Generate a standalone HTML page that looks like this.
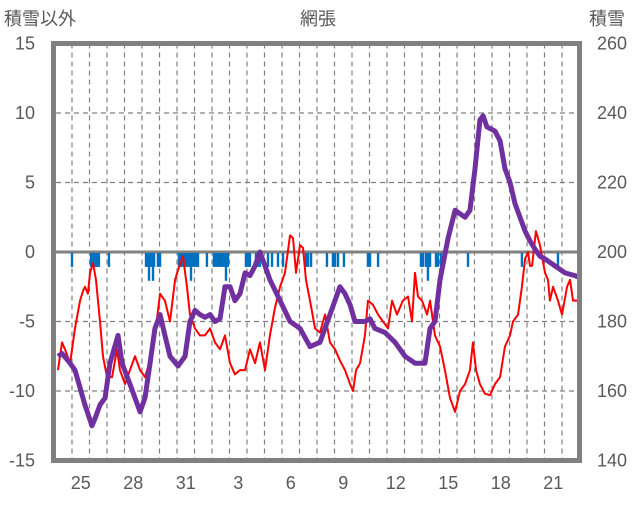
<!DOCTYPE html>
<html><head><meta charset="utf-8"><style>
body{margin:0;background:#fff;}
svg text{font-family:"Liberation Sans","Noto Sans CJK JP",sans-serif;fill:#595959;}
</style></head><body>
<svg id="chart" width="636" height="501" viewBox="0 0 636 501" xmlns="http://www.w3.org/2000/svg">
<text x="318" y="25" font-size="18" text-anchor="middle">網張</text>
<text x="4" y="25" font-size="18">積雪以外</text>
<text x="589" y="25" font-size="18">積雪</text>
<g id="grid"></g>
<g id="bars"></g>
<g id="lines"></g>
<rect x="53.5" y="43.5" width="526" height="417" fill="none" stroke="#808080" stroke-width="5"/>
<g id="ticks"></g>
</svg>
<script>
const leftTicks=[15,10,5,0,-5,-10,-15];
const rightTicks=[260,240,220,200,180,160,140];
const xLabels=["25","28","31","3","6","9","12","15","18","21"];
const barDays=[0.80,1.89,2.00,2.11,2.23,2.34,2.91,5.03,5.14,5.20,5.26,5.37,5.43,5.49,5.71,5.83,6.91,7.03,7.14,7.26,7.37,7.49,7.60,7.71,7.83,7.94,8.00,8.51,8.91,9.03,9.14,9.26,9.37,9.49,9.60,9.71,10.74,10.86,10.97,11.31,11.43,11.54,12.00,12.23,12.57,12.86,14.17,14.29,14.46,15.37,15.71,15.83,16.00,16.34,17.71,17.83,18.29,20.74,20.86,21.03,21.14,21.26,21.6,21.71,21.89,23.43,26.51,28.57];
const barValues=[-1,-1,-1,-1,-1,-1,-1,-1,-1,-2,-1,-1,-2,-1,-1,-1,-1,-1,-1,-1,-1,-1,-2,-1,-1,-1,-1,-1,-1,-1,-1,-1,-1,-1,-2,-1,-1,-1,-1,-1,-1,-1,-1,-1,-1,-1,-1,-1,-1,-1,-1,-1,-1,-1,-1,-1,-1,-1,-1,-1,-2,-1,-1,-1,-1,-1,-1,-1];
const redDays=[0,.23,.4,.69,.97,1.26,1.43,1.54,1.71,1.83,2.0,2.17,2.4,2.57,2.8,3.09,3.37,3.54,3.83,4.11,4.4,4.69,4.97,5.26,5.54,5.83,6.11,6.4,6.69,6.86,7.14,7.37,7.54,7.83,8.11,8.4,8.69,8.97,9.26,9.54,9.83,10.11,10.4,10.69,10.97,11.26,11.54,11.83,12.11,12.4,12.69,12.97,13.26,13.43,13.6,13.83,14.0,14.17,14.4,14.69,14.97,15.26,15.54,15.83,16.11,16.4,16.69,16.86,17.03,17.26,17.54,17.71,18.0,18.29,18.57,18.86,19.09,19.37,19.71,20.0,20.23,20.4,20.57,20.8,21.09,21.26,21.54,21.83,22.11,22.4,22.69,22.97,23.26,23.54,23.71,23.89,24.11,24.4,24.69,24.97,25.26,25.54,25.83,26.0,26.29,26.51,26.69,26.86,26.97,27.09,27.31,27.54,27.83,28.0,28.11,28.29,28.57,28.8,29.09,29.26,29.43,29.71];
const redValues=[-8.5,-6.5,-7,-8,-5.5,-3.5,-2.8,-2.5,-3,-1.5,-0.8,-2,-5,-7.5,-9,-9,-7,-8.5,-9.5,-8.5,-7.5,-8.5,-9,-7.8,-6,-3,-3.5,-5,-2,-1.3,-0.3,-2.5,-4.5,-5.5,-6,-6,-5.5,-6.5,-7,-6,-8,-8.8,-8.5,-8.5,-7,-8,-6.5,-8.5,-6,-4,-2.5,-1.5,1.2,1,-1.5,0.5,0.3,-2,-3.5,-5.5,-5.8,-4.5,-6.5,-7,-7.8,-8.5,-9.5,-10,-8.5,-8,-6,-3.5,-3.8,-4.5,-5,-5.5,-3.5,-4.5,-3.5,-3.2,-5,-1.5,-3.2,-3.5,-4.5,-3.5,-6,-6.8,-8.5,-10.5,-11.5,-10,-9.5,-8.5,-6.5,-8.5,-9.5,-10.2,-10.3,-9.5,-9,-6.8,-6,-5,-4.5,-2.5,-0.5,0,-1,-1,1.5,0.5,-1.5,-2,-3.5,-2.5,-3.5,-4.5,-2.5,-2,-3.5,-3.5];
const snowDays=[0,.23,.69,.97,1.54,1.94,2.11,2.4,2.69,2.97,3.43,3.66,4.11,4.69,4.97,5.26,5.54,5.83,6.11,6.4,6.86,7.26,7.54,7.83,8.11,8.4,8.69,8.97,9.26,9.54,9.83,10.11,10.4,10.69,10.97,11.26,11.54,11.83,12.11,12.69,13.26,13.83,14.4,14.97,15.54,16.11,16.4,16.69,16.97,17.54,17.83,18.11,18.69,19.26,19.83,20.4,20.97,21.26,21.54,21.83,22.29,22.69,23.26,23.54,23.83,24.11,24.29,24.51,24.97,25.26,25.54,25.83,26.11,26.4,26.69,26.97,27.26,27.54,27.83,28.4,28.97,29.54,29.71];
const snowValues=[170,170.8,168,166,156,150,152,156,158,168,176,168,162,154,158,168,178,182,176,170,167.2,170,180,183.2,182,181.2,182,180,180.8,190,190,186,188,194,193.2,196,200,196,192,186,180,178,172.8,174,182,190,188,184.8,180,180,180.8,178,176.8,174,170,168,168,178,180,192,204,212,210,212,224,238,239.2,236,234.8,232,224,220,214,210,206,203.2,200.8,198.8,198,196,194,193.2,192.8];
const NS="http://www.w3.org/2000/svg";
const X0=58,DX=17.5,TOP=43.5,BOT=460.5;
function xs(d){return X0+d*DX;}
function yl(v){return TOP+(15-v)*(BOT-TOP)/30;}
function yr(v){return TOP+(260-v)*(BOT-TOP)/120;}
function mk(tag,attrs,parent){const e=document.createElementNS(NS,tag);for(const k in attrs)e.setAttribute(k,attrs[k]);parent.appendChild(e);return e;}
const grid=document.getElementById('grid');
for(let k=0;k<29;k++){const x=xs(0.8+k);
 const l=mk('line',{x1:x,x2:x,y1:TOP,y2:BOT,stroke:'#808080','stroke-width':1.2,'stroke-dasharray':'5,4'},grid);
 
 }
[10,5,-5,-10].forEach(v=>{const l=mk('line',{x1:56,x2:577,y1:yl(v),y2:yl(v),stroke:'#808080','stroke-width':1.2,'stroke-dasharray':'5,4'},grid);
 
 });
const zl=mk('line',{x1:56,x2:577,y1:yl(0),y2:yl(0),stroke:'#808080','stroke-width':3},grid);


const bars=document.getElementById('bars');
barDays.forEach((d,i)=>{const r=mk('rect',{x:xs(d)-1.2,y:yl(0)+1,width:2.4,height:yl(barValues[i])-yl(0),fill:'#0070C0'},bars);
 
 });
const lines=document.getElementById('lines');
const rp=mk('polyline',{points:redDays.map((d,i)=>xs(d)+','+yl(redValues[i])).join(' '),fill:'none',stroke:'#FF0000','stroke-width':2,'stroke-linejoin':'round'},lines);


const sp=mk('polyline',{points:snowDays.map((d,i)=>xs(d)+','+yr(snowValues[i])).join(' '),fill:'none',stroke:'#7030A0','stroke-width':5,'stroke-linejoin':'round'},lines);


const ticks=document.getElementById('ticks');
leftTicks.forEach(v=>{const t=mk('text',{x:35,y:yl(v)+6,'font-size':18,'text-anchor':'end'},ticks);t.textContent=v;
 
 });
rightTicks.forEach(v=>{const t=mk('text',{x:597,y:yr(v)+6,'font-size':18},ticks);t.textContent=v;
 
 });
xLabels.forEach((s,i)=>{const t=mk('text',{x:xs(1.3+3*i),y:489,'font-size':18,'text-anchor':'middle'},ticks);t.textContent=s;
 
 });
</script>
</body></html>
